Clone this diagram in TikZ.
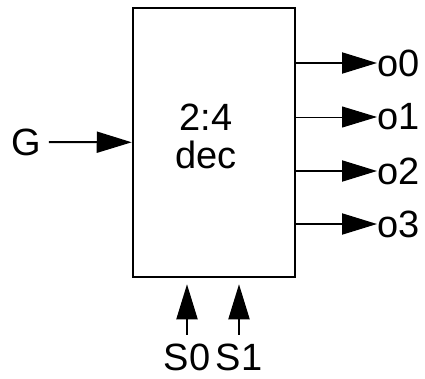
\documentclass[tikz,border=0pt]{standalone}
\usepackage{fontspec}
\setmainfont{Liberation Sans}
\usetikzlibrary{arrows.meta}
\begin{document}
\begin{tikzpicture}[x=1pt,y=-1pt,
  sig/.style={line width=2pt, -{Triangle[length=35pt,width=21pt]}},
  pin/.style={inner sep=0pt, font=\fontsize{38}{44}\selectfont}]
\useasboundingbox (0,0) rectangle (425,378);
\node[draw, line width=2.5pt, minimum width=162pt, minimum height=269pt] (dec) at (214,142.5) {};
\node[pin, align=center] (name) at (206,136) {2:4\\[-6pt]dec};
\node[pin, outer sep=8pt] (g) at (26,142) {G};
\draw[sig] (g) -- (dec);
% outputs
\node[pin, anchor=west] (o0) at (377,63) {o0};
\node[pin, anchor=west] (o1) at (377,117) {o1};
\node[pin, anchor=west] (o2) at (377,171) {o2};
\node[pin, anchor=west] (o3) at (377,224) {o3};
\draw[sig] (dec.east |- o0) -- (o0);
\draw[sig, line width=1pt] (dec.east |- o1) -- (o1);
\draw[sig] (dec.east |- o2) -- (o2);
\draw[sig] (dec.east |- o3) -- (o3);
% selects
\node[pin, outer sep=9pt] (s0) at (187,357) {S0};
\node[pin, outer sep=9pt] (s1) at (239,357) {S1};
\draw[sig, shorten >=6pt] (s0) -- (s0 |- dec.south);
\draw[sig, shorten >=6pt] (s1) -- (s1 |- dec.south);
\end{tikzpicture}
\end{document}
